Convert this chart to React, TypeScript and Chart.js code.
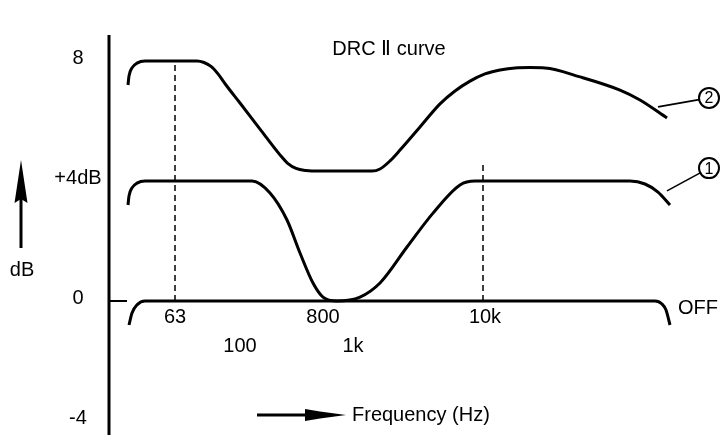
import React, { useEffect, useRef } from "react";
import { Chart, registerables } from "chart.js";

Chart.register(...registerables);

// Schematic position along the frequency axis (arbitrary units, 0 = dB axis) and level in dB
const curve1X = [1.9, 2.0, 2.3, 2.8, 3.6, 14.3, 16.1, 17.8, 19.1, 20.4, 21.4, 22.8, 25.1, 27.1, 29.8, 32.4, 35.1, 36.6, 52.1, 53.6, 54.9, 56.1];
const curve1Y = [3.2, 3.5, 3.77, 3.93, 4, 4, 3.6, 2.7, 1.6, 0.6, 0.13, 0, 0.13, 0.6, 1.8, 2.93, 3.87, 4, 4, 3.9, 3.63, 3.2];

const curve2X = [1.9, 2.0, 2.3, 2.8, 3.6, 8.8, 9.5, 10.2, 10.9, 11.7, 13.1, 15.1, 17.1, 17.9, 18.7, 19.7, 21.1, 26.3, 27.1, 28.1, 29.1, 31.1, 33.1, 34.6, 36.1, 37.6, 39.1, 40.6, 42.1, 43.6, 47.1, 51.1, 53.1, 55.8];
const curve2Y = [7.2, 7.5, 7.77, 7.93, 8, 8, 7.95, 7.82, 7.57, 7.2, 6.6, 5.73, 4.87, 4.58, 4.42, 4.35, 4.33, 4.33, 4.4, 4.67, 5.03, 5.8, 6.57, 7.0, 7.33, 7.57, 7.7, 7.77, 7.78, 7.77, 7.47, 7.03, 6.7, 6.1];

const offX = [2.0, 2.3, 2.8, 3.6, 54.6, 55.3, 55.7, 56.1];
const offY = [-0.8, -0.4, -0.13, 0, 0, -0.1, -0.3, -0.8];

// dB axis
const axisTop = 8.87;
const yMin = -4.4667;
const yMax = 10.0333;
const xMin = -10.9;
const xMax = 61.1;
const zeroStubEnd = 1.8;

const yTickValues = [8, 4, 0, -4];
const yTickLabels = ["8", "+4dB", "0", "-4"];

// dashed guides at 63 Hz and 10 kHz
const guideX = [6.6, 37.4];
const guideTop = [8, 4.53];

const freqRow1Labels = ["63", "800", "10k"];
const freqRow1Pos = [6.6, 21.4, 37.6];
const freqRow2Labels = ["100", "1k"];
const freqRow2Pos = [13.1, 24.4];

// circled series tags and leader lines
const tagLabels = ["1", "2"];
const tagX = [60.0, 60.0];
const tagY = [4.43, 6.77];
const leaderX = [55.8, 54.9];
const leaderY = [3.67, 6.47];

const titleText = "DRC \u2161 curve";
const offLabel = "OFF";
const xAxisTitle = "Frequency (Hz)";
const yAxisTitle = "dB";

const FONT = '"Liberation Sans", Arial, Helvetica, sans-serif';

const zip = (xs: number[], ys: number[]) => xs.map((x, i) => ({ x, y: ys[i] }));

export default function App() {
  const ref = useRef<HTMLCanvasElement | null>(null);

  useEffect(() => {
    document.body.style.margin = "0";
    const canvas = ref.current;
    if (!canvas) return;

    const decor = {
      id: "decor",
      afterDatasetsDraw(chart: any) {
        const ctx = chart.ctx as CanvasRenderingContext2D;
        const xs = chart.scales.x;
        const ys = chart.scales.y;
        const px = (v: number) => xs.getPixelForValue(v);
        const py = (v: number) => ys.getPixelForValue(v);
        ctx.save();
        ctx.fillStyle = "#000";
        ctx.strokeStyle = "#000";
        ctx.textBaseline = "middle";

        // y tick labels
        ctx.font = `20px ${FONT}`;
        ctx.textAlign = "center";
        yTickValues.forEach((v, i) => {
          ctx.fillText(yTickLabels[i], px(-3.1), py(v) - 3);
        });

        // frequency labels
        freqRow1Labels.forEach((t, i) => ctx.fillText(t, px(freqRow1Pos[i]), py(0) + 16));
        freqRow2Labels.forEach((t, i) => ctx.fillText(t, px(freqRow2Pos[i]), py(0) + 45));

        // OFF label
        ctx.textAlign = "left";
        ctx.fillText(offLabel, px(56.9), py(0) + 7);

        // title
        ctx.textAlign = "center";
        ctx.fillText(titleText, 389, 49);

        // dB arrow + label
        ctx.fillText(yAxisTitle, 22, 270);
        ctx.lineWidth = 3;
        ctx.beginPath();
        ctx.moveTo(21, 248);
        ctx.lineTo(21, 196);
        ctx.stroke();
        ctx.beginPath();
        ctx.moveTo(21, 160);
        ctx.lineTo(27.5, 203);
        ctx.lineTo(21, 199);
        ctx.lineTo(14.5, 203);
        ctx.closePath();
        ctx.fill();

        // frequency arrow + title
        ctx.beginPath();
        ctx.moveTo(257, 415);
        ctx.lineTo(310, 415);
        ctx.stroke();
        ctx.beginPath();
        ctx.moveTo(305, 409);
        ctx.lineTo(320, 411.5);
        ctx.lineTo(346, 415);
        ctx.lineTo(320, 418.5);
        ctx.lineTo(305, 421);
        ctx.closePath();
        ctx.fill();
        ctx.textAlign = "left";
        ctx.fillText(xAxisTitle, 352, 415);

        // circled tags and leaders
        const r = 10;
        tagLabels.forEach((t, i) => {
          const cx = px(tagX[i]);
          const cy = py(tagY[i]);
          const lx = px(leaderX[i]);
          const ly = py(leaderY[i]);
          const ang = Math.atan2(ly - cy, lx - cx);
          ctx.lineWidth = 1.6;
          ctx.beginPath();
          ctx.moveTo(lx, ly);
          ctx.lineTo(cx + r * Math.cos(ang), cy + r * Math.sin(ang));
          ctx.stroke();
          ctx.lineWidth = 2;
          ctx.beginPath();
          ctx.arc(cx, cy, r, 0, Math.PI * 2);
          ctx.stroke();
          ctx.font = `16px ${FONT}`;
          ctx.textAlign = "center";
          ctx.fillText(t, cx, cy + 1);
        });

        ctx.restore();
      },
    };

    const curveStyle = {
      borderColor: "#000",
      borderWidth: 3,
      pointRadius: 0,
      fill: false,
      cubicInterpolationMode: "monotone" as const,
    };

    const chart = new Chart(canvas, {
      type: "line",
      data: {
        datasets: [
          { ...curveStyle, label: "2", data: zip(curve2X, curve2Y) },
          { ...curveStyle, label: "1", data: zip(curve1X, curve1Y) },
          { ...curveStyle, label: "OFF", data: zip(offX, offY) },
          {
            label: "axis",
            data: [{ x: 0, y: yMin }, { x: 0, y: axisTop }],
            borderColor: "#000",
            borderWidth: 3,
            pointRadius: 0,
            tension: 0,
          },
          {
            label: "zero",
            data: [{ x: 0, y: 0 }, { x: zeroStubEnd, y: 0 }],
            borderColor: "#000",
            borderWidth: 2,
            pointRadius: 0,
            tension: 0,
          },
          ...guideX.map((gx, i) => ({
            label: "guide" + i,
            data: [{ x: gx, y: 0 }, { x: gx, y: guideTop[i] }],
            borderColor: "#000",
            borderWidth: 1.5,
            borderDash: [6, 4],
            pointRadius: 0,
            tension: 0,
          })),
        ],
      },
      options: {
        responsive: false,
        maintainAspectRatio: false,
        devicePixelRatio: 1,
        animation: false,
        layout: { padding: 0 },
        scales: {
          x: { type: "linear", display: false, min: xMin, max: xMax },
          y: { type: "linear", display: false, min: yMin, max: yMax },
        },
        plugins: {
          legend: { display: false },
          tooltip: { enabled: false },
          title: { display: false },
        },
      } as any,
      plugins: [decor],
    });

    return () => chart.destroy();
  }, []);

  return (
    <div style={{ width: 720, height: 435, background: "#fff" }}>
      <canvas ref={ref} width={720} height={435} style={{ display: "block" }} />
    </div>
  );
}
